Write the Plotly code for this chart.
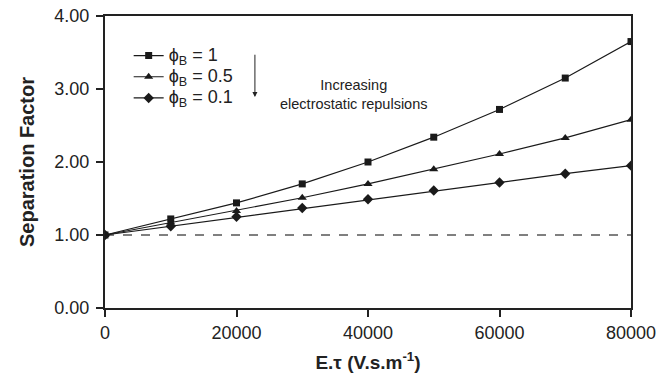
import plotly.graph_objects as go

x_vals = [0, 10000, 20000, 30000, 40000, 50000, 60000, 70000, 80000]
phi_1 = [1.00, 1.22, 1.44, 1.70, 2.00, 2.34, 2.72, 3.15, 3.65]
phi_05 = [1.00, 1.17, 1.33, 1.51, 1.70, 1.90, 2.11, 2.33, 2.58]
phi_01 = [1.00, 1.12, 1.25, 1.37, 1.49, 1.61, 1.72, 1.84, 1.95]
names = ["ϕ<sub>B</sub> = 1", "ϕ<sub>B</sub> = 0.5", "ϕ<sub>B</sub> = 0.1"]
symbols = ["square", "triangle-up", "diamond"]
x_ticks = [0, 20000, 40000, 60000, 80000]
y_ticks = [0, 1, 2, 3, 4]

FONT = "Liberation Sans, Arial, sans-serif"
INK = "#222"
W, H = 662, 379
L, R, T, B = 105, 31, 16, 71
pw = W - L - R
ph = H - T - B

fig = go.Figure()
fig.add_trace(go.Scatter(x=[0, 80000], y=[1, 1], mode="lines",
                         line=dict(color="black", width=1, dash="dash"),
                         showlegend=False, hoverinfo="skip"))
for ys, nm, sym in zip([phi_1, phi_05, phi_01], names, symbols):
    fig.add_trace(go.Scatter(x=x_vals, y=ys, mode="lines+markers",
                             name="<span style='font-size:18px'>" + nm + "</span>",
                             line=dict(color="#1a1a1a", width=1.2),
                             marker=dict(symbol=sym, size=8 if sym != "square" else 7,
                                         color="#1a1a1a")))

fig.add_annotation(x=(354 - L) / pw, y=(H - B - 75) / ph, xref="paper", yref="paper",
                   text="Increasing<br>electrostatic repulsions", showarrow=False,
                   font=dict(family=FONT, size=14.5, color=INK), align="center")
fig.add_annotation(x=22800, y=2.89, ax=22800, ay=3.49, xref="x", yref="y",
                   axref="x", ayref="y", showarrow=True, arrowhead=2,
                   arrowsize=1, arrowwidth=1, arrowcolor=INK, text="")

fig.update_layout(
    width=W, height=H,
    margin=dict(l=L, r=R, t=T, b=B, autoexpand=False),
    plot_bgcolor="white", paper_bgcolor="white",
    font=dict(family=FONT, size=18, color=INK),
    legend=dict(x=0.045, y=0.918, xanchor="left", yanchor="top",
                bgcolor="rgba(0,0,0,0)", font=dict(size=14), tracegroupgap=0,
                itemwidth=30),
    xaxis=dict(range=[0, 80000], tickvals=x_ticks, ticktext=[str(v) for v in x_ticks],
               showgrid=False, zeroline=False, showline=True, linecolor=INK,
               linewidth=2, mirror=True, ticks="outside", ticklen=7, tickcolor=INK,
               tickwidth=2, automargin=False, ticklabeloverflow="allow",
               tickfont=dict(size=18),
               title=dict(text="<b>E.τ (V.s.m<sup>-1</sup>)</b>", font=dict(size=19), standoff=14)),
    yaxis=dict(range=[0, 4], tickvals=y_ticks, ticktext=["%.2f" % v for v in y_ticks],
               showgrid=False, zeroline=False, showline=True, linecolor=INK,
               linewidth=2, mirror=True, ticks="outside", ticklen=7, tickcolor=INK,
               tickwidth=2, automargin=False, ticklabeloverflow="allow",
               tickfont=dict(size=18), ticklabelstandoff=3,
               title=dict(text="<b>Separation Factor</b>", font=dict(size=20), standoff=14)),
)

fig.write_html("out.html", config={"displayModeBar": False},
               post_script="document.body.style.margin='0';document.body.style.overflow='hidden';")
